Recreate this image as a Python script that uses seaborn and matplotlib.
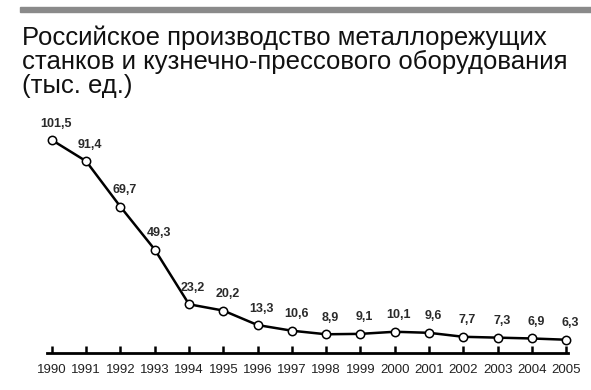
import pandas as pd
import matplotlib.pyplot as plt
import seaborn as sns
from matplotlib.patches import Rectangle

years = [1990, 1991, 1992, 1993, 1994, 1995, 1996, 1997,
         1998, 1999, 2000, 2001, 2002, 2003, 2004, 2005]
output = [101.5, 91.4, 69.7, 49.3, 23.2, 20.2, 13.3, 10.6,
          8.9, 9.1, 10.1, 9.6, 7.7, 7.3, 6.9, 6.3]
title = ('Российское производство металлорежущих\n'
         'станков и кузнечно-прессового оборудования\n'
         '(тыс. ед.)')

sns.set_style('white')
plt.rcParams['font.family'] = ['Liberation Sans', 'DejaVu Sans']

data = pd.DataFrame({'year': years, 'value': output})

fig = plt.figure(figsize=(5.91, 3.9), dpi=100)
ax = fig.add_axes([0.079, 0.095, 0.882, 0.546])

sns.lineplot(x='year', y='value', data=data, ax=ax, color='black', linewidth=1.8,
             marker='o', markersize=6, markerfacecolor='white',
             markeredgecolor='black', markeredgewidth=1.1, clip_on=False)

for x, y in zip(years, output):
    ax.annotate(f'{y:.1f}'.replace('.', ','), (x, y), xytext=(3, 7.5),
                textcoords='offset points', ha='center', va='bottom',
                fontsize=9, fontweight='bold', color='#2a2a2a')

ax.set_xlim(1989.85, 2005.05)
ax.set_ylim(0, 101.5)
ax.set_xticks(years)
ax.set_xticklabels([str(y) for y in years], fontsize=9.5, color='#222222')
ax.set_yticks([])
ax.set_xlabel('')
ax.set_ylabel('')
for s in ['top', 'right', 'left']:
    ax.spines[s].set_visible(False)
ax.spines['bottom'].set_linewidth(2)
ax.spines['bottom'].set_color('black')
ax.tick_params(axis='x', bottom=True, direction='in', length=5, width=1.8,
               pad=8, color='black')

# gray band at the top
fig.patches.append(Rectangle((0.034, 0.969), 0.966, 0.013, transform=fig.transFigure,
                             color='#8a8a8a', zorder=0))
fig.text(0.037, 0.935, title, ha='left', va='top', fontsize=18.5,
         linespacing=1.0, color='#111111')

fig.savefig('out.png', dpi=100)
